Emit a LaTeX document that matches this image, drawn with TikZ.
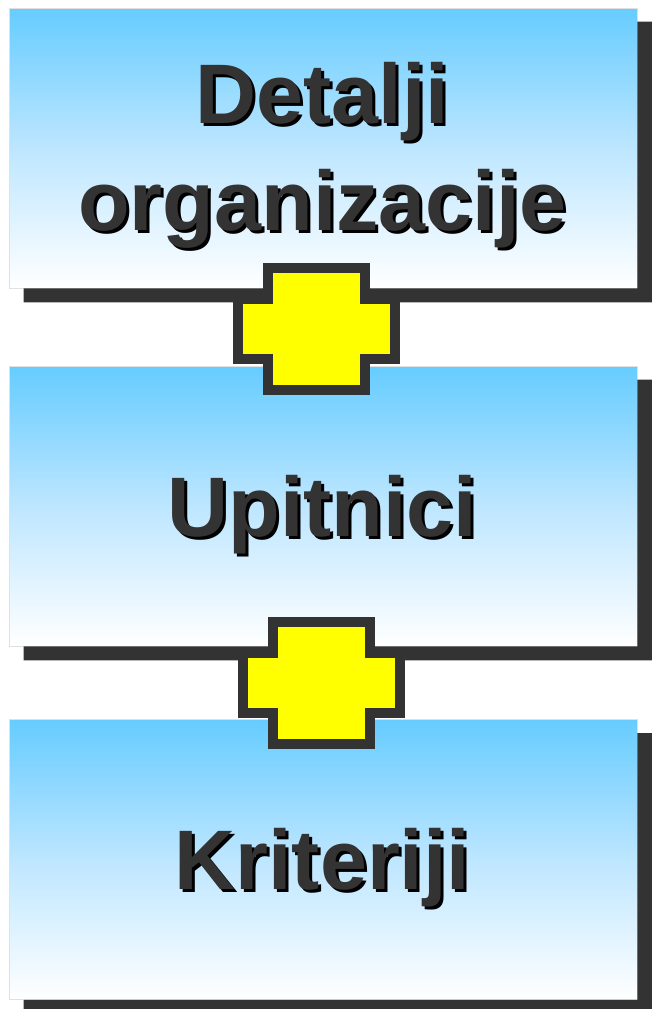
\documentclass[tikz,border=0pt]{standalone}
\usepackage{fontspec}
\setmainfont{Liberation Sans}
\definecolor{sky}{HTML}{66CCFF}
\definecolor{skymid}{HTML}{BDE6FF}
\definecolor{dark}{HTML}{333333}
\definecolor{plusyellow}{RGB}{255,255,0}
\tikzset{
  boxnode/.style={rectangle, minimum width=628pt, minimum height=280pt, inner sep=0pt,
    top color=sky, bottom color=white, middle color=skymid, draw=black!12, line width=0.8pt},
  boxshadow/.style={fill=dark},
  plusmark/.style={fill=plusyellow, draw=dark, line width=10pt, line join=miter},
  lbl/.style={font=\bfseries\fontsize{84.5}{100}\selectfont, text=dark, inner sep=0pt, anchor=base}
}
\newcommand\shadowlabel[4]{%
  \node[lbl] (#1) at (#2,#3) {\rlap{\kern3pt\raisebox{-3pt}{\color{black}#4}}#4};}
\newcommand\plusshape[1]{%
  \draw[plusmark] (#1) ++(-48.5,-61) -- ++(97,0) -- ++(0,31) -- ++(30,0) -- ++(0,60)
    -- ++(-30,0) -- ++(0,31) -- ++(-97,0) -- ++(0,-31) -- ++(-30,0) -- ++(0,-60)
    -- ++(30,0) -- cycle;}
\newcommand\boxshadowof[1]{%
  \fill[boxshadow] ([xshift=15pt,yshift=-14pt]#1.north east) rectangle (#1.south east)
    ([xshift=15pt]#1.south west) rectangle ([xshift=15pt,yshift=-14pt]#1.south east);}
\begin{document}
\begin{tikzpicture}[x=1pt,y=-1pt]
\path[use as bounding box] (0,0) rectangle (652,1009);
% box 1
\node[boxnode] (b1) at (323,148) {};
\boxshadowof{b1}
% box 2
\node[boxnode] (b2) at (323,506) {};
\boxshadowof{b2}
% plus 1
\coordinate (p1) at (316.5,329);
\plusshape{p1}
% box 3
\node[boxnode] (b3) at (323,859.5) {};
\boxshadowof{b3}
% plus 2
\coordinate (p2) at (321.5,683);
\plusshape{p2}
% labels
\shadowlabel{t1}{322.5}{123.5}{Detalji}
\shadowlabel{t2}{322.5}{230.5}{organizacije}
\shadowlabel{t3}{322.5}{536}{Upitnici}
\shadowlabel{t4}{322.5}{889.5}{Kriteriji}
\end{tikzpicture}
\end{document}
